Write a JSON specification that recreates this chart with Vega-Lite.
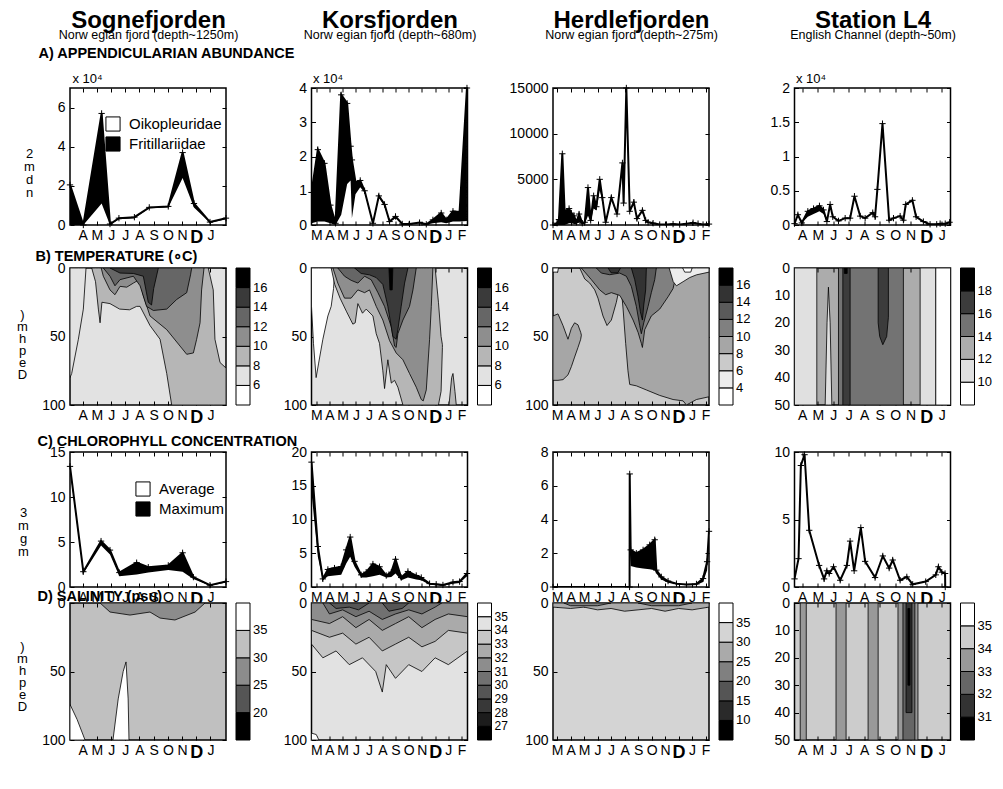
{
"$schema": "https://vega.github.io/schema/vega-lite/v6.json",
"autosize": "none",
"padding": {"left": 70, "top": 88, "right": 933, "bottom": 701},
"background": "white",
"config": {
  "font": "Liberation Sans",
  "view": {"stroke": "black", "strokeWidth": 1.5},
  "axis": {"grid": false, "domain": false, "tickColor": "black", "tickSize": -4, "tickWidth": 1, "labelColor": "black", "labelFontSize": 14, "labelFont": "Liberation Sans", "labelPadding": 9, "labelFlush": false, "labelOverlap": false, "labelBound": false, "titleColor": "black", "titleFont": "Liberation Sans", "titleFontWeight": "normal"},
  "axisX": {"labelPadding": 7},
  "legend": {"labelColor": "black", "labelFont": "Liberation Sans", "padding": 0}
},
"resolve": {"scale": {"color": "independent", "fill": "independent"}, "legend": {"color": "independent", "fill": "independent"}},
"datasets": {
  "a1": [{"t":-0.9,"hi":2.05,"lo":0},{"t":0.04,"hi":0,"lo":0},{"t":1.33,"hi":5.7,"lo":1.1},{"t":1.92,"hi":0.05,"lo":0},{"t":2.55,"hi":0.35,"lo":0.3},{"t":3.64,"hi":0.4,"lo":0.35},{"t":4.69,"hi":0.9,"lo":0.85},{"t":6.03,"hi":0.95,"lo":0.9},{"t":7.04,"hi":3.7,"lo":2.4},{"t":7.84,"hi":1.1,"lo":0.9},{"t":8.97,"hi":0.15,"lo":0.12},{"t":10.1,"hi":0.35,"lo":0.3}],
  "a2": [{"t":-0.36,"hi":0.95,"lo":0.05},{"t":0.12,"hi":2.2,"lo":0.1},{"t":0.62,"hi":1.8,"lo":0.1},{"t":1.07,"hi":0.58,"lo":0.05},{"t":1.46,"hi":0.05,"lo":0},{"t":1.89,"hi":3.8,"lo":0.3},{"t":2.34,"hi":3.55,"lo":1.2},{"t":2.6,"hi":2.3,"lo":1.3},{"t":2.7,"hi":1.9,"lo":0.2},{"t":2.97,"hi":1.25,"lo":0.9},{"t":3.33,"hi":1.3,"lo":1.1},{"t":3.66,"hi":1.0,"lo":0.95},{"t":4.29,"hi":0.05,"lo":0.04},{"t":4.74,"hi":0.85,"lo":0.8},{"t":5.17,"hi":0.6,"lo":0.55},{"t":5.55,"hi":0.1,"lo":0.08},{"t":6.0,"hi":0.25,"lo":0.2},{"t":6.51,"hi":0.03,"lo":0.02},{"t":7.06,"hi":0.03,"lo":0.02},{"t":7.82,"hi":0.07,"lo":0.05},{"t":8.33,"hi":0.02,"lo":0.01},{"t":8.83,"hi":0.15,"lo":0.05},{"t":9.46,"hi":0.35,"lo":0.08},{"t":9.84,"hi":0.15,"lo":0.05},{"t":10.35,"hi":0.4,"lo":0.1},{"t":10.85,"hi":0.38,"lo":0.1},{"t":11.41,"hi":4.0,"lo":0.12}],
  "a3": [{"t":-0.3,"hi":0,"lo":0},{"t":0.0,"hi":200,"lo":0},{"t":0.14,"hi":600,"lo":0},{"t":0.39,"hi":7800,"lo":0},{"t":0.56,"hi":1500,"lo":0},{"t":0.89,"hi":1800,"lo":200},{"t":1.06,"hi":1300,"lo":200},{"t":1.26,"hi":1000,"lo":100},{"t":1.43,"hi":300,"lo":100},{"t":1.63,"hi":1200,"lo":300},{"t":1.87,"hi":200,"lo":100},{"t":2.05,"hi":300,"lo":100},{"t":2.29,"hi":4100,"lo":1000},{"t":2.49,"hi":500,"lo":300},{"t":2.71,"hi":3200,"lo":1800},{"t":2.91,"hi":2000,"lo":1600},{"t":3.16,"hi":5000,"lo":3800},{"t":3.35,"hi":3000,"lo":2700},{"t":3.6,"hi":300,"lo":250},{"t":4.02,"hi":3000,"lo":2800},{"t":4.44,"hi":1200,"lo":1100},{"t":4.84,"hi":6800,"lo":6500},{"t":4.93,"hi":2400,"lo":2200},{"t":5.13,"hi":15000,"lo":14600},{"t":5.38,"hi":1500,"lo":1400},{"t":5.68,"hi":2500,"lo":2300},{"t":5.92,"hi":700,"lo":650},{"t":6.32,"hi":1600,"lo":1500},{"t":6.56,"hi":500,"lo":450},{"t":6.74,"hi":300,"lo":250},{"t":7.11,"hi":200,"lo":150},{"t":7.6,"hi":50,"lo":30},{"t":8.1,"hi":50,"lo":30},{"t":8.59,"hi":100,"lo":60},{"t":9.08,"hi":50,"lo":30},{"t":9.58,"hi":150,"lo":100},{"t":10.07,"hi":250,"lo":150},{"t":10.44,"hi":150,"lo":100},{"t":10.81,"hi":50,"lo":30},{"t":11.25,"hi":100,"lo":60}],
  "a4": [{"t":-0.5,"hi":0.02,"lo":0.02},{"t":-0.28,"hi":0.15,"lo":0.15},{"t":-0.03,"hi":0.03,"lo":0.03},{"t":0.36,"hi":0.2,"lo":0.12},{"t":0.73,"hi":0.24,"lo":0.16},{"t":1.11,"hi":0.28,"lo":0.2},{"t":1.37,"hi":0.22,"lo":0.16},{"t":1.59,"hi":0.05,"lo":0.05},{"t":1.8,"hi":0.3,"lo":0.3},{"t":1.97,"hi":0.12,"lo":0.12},{"t":2.34,"hi":0.06,"lo":0.06},{"t":2.77,"hi":0.1,"lo":0.1},{"t":3.09,"hi":0.1,"lo":0.1},{"t":3.37,"hi":0.42,"lo":0.42},{"t":3.74,"hi":0.13,"lo":0.13},{"t":4.06,"hi":0.1,"lo":0.1},{"t":4.55,"hi":0.18,"lo":0.18},{"t":4.7,"hi":0.12,"lo":0.12},{"t":4.85,"hi":0.52,"lo":0.52},{"t":5.18,"hi":1.48,"lo":1.48},{"t":5.61,"hi":0.07,"lo":0.07},{"t":5.89,"hi":0.1,"lo":0.1},{"t":6.32,"hi":0.13,"lo":0.13},{"t":6.53,"hi":0.07,"lo":0.07},{"t":6.68,"hi":0.3,"lo":0.3},{"t":7.11,"hi":0.36,"lo":0.36},{"t":7.35,"hi":0.12,"lo":0.12},{"t":7.82,"hi":0.05,"lo":0.05},{"t":8.25,"hi":0.01,"lo":0.01},{"t":8.68,"hi":0.01,"lo":0.01},{"t":8.9,"hi":0.02,"lo":0.02},{"t":9.23,"hi":0.02,"lo":0.02},{"t":9.51,"hi":0.04,"lo":0.04}],
  "c1": [{"t":-0.9,"hi":13.4,"lo":13.0},{"t":0.04,"hi":1.7,"lo":1.5},{"t":1.29,"hi":5.1,"lo":4.6},{"t":1.92,"hi":4.1,"lo":3.6},{"t":2.58,"hi":1.6,"lo":1.2},{"t":3.8,"hi":2.7,"lo":1.4},{"t":4.62,"hi":2.2,"lo":1.6},{"t":6.03,"hi":2.4,"lo":1.9},{"t":7.04,"hi":3.8,"lo":1.7},{"t":7.8,"hi":1.1,"lo":0.9},{"t":8.97,"hi":0.2,"lo":0.15},{"t":10.1,"hi":0.6,"lo":0.5}],
  "c2": [{"t":-0.36,"hi":18.5,"lo":14},{"t":0.12,"hi":6,"lo":4.5},{"t":0.5,"hi":1.2,"lo":1.0},{"t":0.88,"hi":2.6,"lo":1.6},{"t":1.38,"hi":2.8,"lo":1.7},{"t":1.89,"hi":3.0,"lo":1.8},{"t":2.27,"hi":5.5,"lo":3.5},{"t":2.57,"hi":7.4,"lo":4.5},{"t":2.9,"hi":3.8,"lo":3.0},{"t":3.4,"hi":1.8,"lo":1.4},{"t":3.78,"hi":2.2,"lo":1.4},{"t":4.29,"hi":3.4,"lo":1.6},{"t":4.79,"hi":3.0,"lo":1.8},{"t":5.3,"hi":1.7,"lo":1.4},{"t":5.68,"hi":2.2,"lo":1.5},{"t":6.0,"hi":4.1,"lo":2.0},{"t":6.43,"hi":1.4,"lo":1.0},{"t":6.94,"hi":2.3,"lo":1.4},{"t":7.57,"hi":1.7,"lo":1.1},{"t":7.95,"hi":1.4,"lo":1.0},{"t":8.58,"hi":0.5,"lo":0.35},{"t":9.08,"hi":0.4,"lo":0.25},{"t":9.59,"hi":0.3,"lo":0.2},{"t":10.35,"hi":0.7,"lo":0.5},{"t":10.85,"hi":0.8,"lo":0.6},{"t":11.41,"hi":2.0,"lo":1.6}],
  "c3": [{"t":-0.3,"hi":0,"lo":0},{"t":5.37,"hi":0,"lo":0},{"t":5.38,"hi":6.7,"lo":2.2},{"t":5.45,"hi":2.2,"lo":1.25},{"t":5.87,"hi":2.0,"lo":1.15},{"t":6.37,"hi":2.2,"lo":1.1},{"t":6.86,"hi":2.5,"lo":1.05},{"t":7.23,"hi":2.8,"lo":1.0},{"t":7.35,"hi":1.0,"lo":0.8},{"t":7.72,"hi":0.6,"lo":0.45},{"t":8.22,"hi":0.35,"lo":0.25},{"t":8.84,"hi":0.2,"lo":0.15},{"t":9.58,"hi":0.15,"lo":0.1},{"t":10.32,"hi":0.18,"lo":0.12},{"t":10.81,"hi":0.5,"lo":0.3},{"t":11.11,"hi":1.5,"lo":1.0},{"t":11.25,"hi":3.3,"lo":2.5}],
  "c4": [{"t":-0.5,"hi":0.6,"lo":0.6},{"t":-0.24,"hi":2.1,"lo":2.1},{"t":-0.09,"hi":9.0,"lo":9.0},{"t":0.15,"hi":9.8,"lo":9.8},{"t":0.45,"hi":4.2,"lo":4.2},{"t":1.09,"hi":1.6,"lo":1.6},{"t":1.41,"hi":0.6,"lo":0.6},{"t":1.59,"hi":1.2,"lo":1.2},{"t":1.74,"hi":1.0,"lo":1.0},{"t":2.02,"hi":1.5,"lo":1.5},{"t":2.45,"hi":0.5,"lo":0.5},{"t":2.88,"hi":1.6,"lo":1.6},{"t":3.09,"hi":3.4,"lo":3.4},{"t":3.35,"hi":1.2,"lo":1.2},{"t":3.78,"hi":4.4,"lo":4.4},{"t":4.06,"hi":1.9,"lo":1.9},{"t":4.7,"hi":0.7,"lo":0.7},{"t":5.2,"hi":2.3,"lo":2.3},{"t":5.61,"hi":1.4,"lo":1.4},{"t":5.84,"hi":2.0,"lo":2.0},{"t":6.32,"hi":0.5,"lo":0.5},{"t":6.75,"hi":0.75,"lo":0.75},{"t":7.13,"hi":0.2,"lo":0.2},{"t":7.97,"hi":0.4,"lo":0.4},{"t":8.62,"hi":0.9,"lo":0.9},{"t":8.79,"hi":1.5,"lo":1.5},{"t":9.01,"hi":1.1,"lo":1.1},{"t":9.22,"hi":1.0,"lo":1.0},{"t":9.23,"hi":0,"lo":0}],
  "b1": [
    {"r":1,"lev":7,"t":-0.9,"top":0,"bot":80},{"r":1,"lev":7,"t":-0.78,"top":0,"bot":77},{"r":1,"lev":7,"t":-0.31,"top":0,"bot":52},{"r":1,"lev":7,"t":0.04,"top":0,"bot":30},{"r":1,"lev":7,"t":0.23,"top":0,"bot":0},
    {"r":2,"lev":9,"t":0.63,"top":0,"bot":0},{"r":2,"lev":9,"t":0.9,"top":0,"bot":10},{"r":2,"lev":9,"t":1.1,"top":0,"bot":30},{"r":2,"lev":9,"t":1.22,"top":0,"bot":40},{"r":2,"lev":9,"t":1.35,"top":0,"bot":25},{"r":2,"lev":9,"t":1.92,"top":0,"bot":26},{"r":2,"lev":9,"t":2.6,"top":0,"bot":30},{"r":2,"lev":9,"t":3.3,"top":0,"bot":30.5},{"r":2,"lev":9,"t":3.8,"top":0,"bot":28},{"r":2,"lev":9,"t":4.04,"top":0,"bot":28},{"r":2,"lev":9,"t":4.74,"top":0,"bot":42},{"r":2,"lev":9,"t":5.45,"top":0,"bot":52},{"r":2,"lev":9,"t":5.92,"top":0,"bot":77},{"r":2,"lev":9,"t":6.27,"top":0,"bot":100},{"r":2,"lev":9,"t":8.85,"top":0,"bot":100},{"r":2,"lev":9,"t":9.2,"top":16,"bot":100},{"r":2,"lev":9,"t":9.32,"top":52,"bot":100},{"r":2,"lev":9,"t":9.68,"top":69,"bot":100},{"r":2,"lev":9,"t":10.1,"top":73,"bot":100},
    {"r":3,"lev":11,"t":1.3,"top":0,"bot":0},{"r":3,"lev":11,"t":1.45,"top":0,"bot":6},{"r":3,"lev":11,"t":1.92,"top":0,"bot":16},{"r":3,"lev":11,"t":2.27,"top":0,"bot":19.5},{"r":3,"lev":11,"t":2.63,"top":0,"bot":13.4},{"r":3,"lev":11,"t":3.1,"top":0,"bot":14},{"r":3,"lev":11,"t":3.57,"top":0,"bot":11},{"r":3,"lev":11,"t":3.9,"top":0,"bot":9},{"r":3,"lev":11,"t":4.04,"top":0,"bot":10},{"r":3,"lev":11,"t":4.27,"top":0,"bot":20},{"r":3,"lev":11,"t":4.74,"top":0,"bot":35},{"r":3,"lev":11,"t":5.92,"top":0,"bot":45},{"r":3,"lev":11,"t":6.86,"top":0,"bot":57},{"r":3,"lev":11,"t":7.33,"top":0,"bot":63},{"r":3,"lev":11,"t":7.8,"top":0,"bot":62},{"r":3,"lev":11,"t":8.03,"top":0,"bot":52},{"r":3,"lev":11,"t":8.27,"top":0,"bot":40},{"r":3,"lev":11,"t":8.38,"top":0,"bot":16},{"r":3,"lev":11,"t":8.55,"top":0,"bot":0},
    {"r":4,"lev":13,"t":1.45,"top":0,"bot":0},{"r":4,"lev":13,"t":1.92,"top":0,"bot":6},{"r":4,"lev":13,"t":2.27,"top":0,"bot":13},{"r":4,"lev":13,"t":2.63,"top":0,"bot":8.5},{"r":4,"lev":13,"t":3.57,"top":0,"bot":6},{"r":4,"lev":13,"t":4.04,"top":0,"bot":13},{"r":4,"lev":13,"t":4.5,"top":0,"bot":28},{"r":4,"lev":13,"t":4.98,"top":0,"bot":31},{"r":4,"lev":13,"t":5.92,"top":0,"bot":30},{"r":4,"lev":13,"t":6.62,"top":0,"bot":23},{"r":4,"lev":13,"t":7.33,"top":0,"bot":18},{"r":4,"lev":13,"t":7.6,"top":0,"bot":5},{"r":4,"lev":13,"t":7.68,"top":0,"bot":0},
    {"r":5,"lev":15,"t":1.92,"top":0,"bot":0},{"r":5,"lev":15,"t":2.63,"top":0,"bot":3.7},{"r":5,"lev":15,"t":3.57,"top":0,"bot":4},{"r":5,"lev":15,"t":4.27,"top":0,"bot":6},{"r":5,"lev":15,"t":4.62,"top":0,"bot":25},{"r":5,"lev":15,"t":4.85,"top":0,"bot":27},{"r":5,"lev":15,"t":5.0,"top":0,"bot":15},{"r":5,"lev":15,"t":5.33,"top":0,"bot":0}
  ],
  "b2": [
    {"r":1,"lev":5,"t":-0.36,"top":0,"bot":28},{"r":1,"lev":5,"t":-0.21,"top":0,"bot":55},{"r":1,"lev":5,"t":-0.01,"top":0,"bot":80},{"r":1,"lev":5,"t":0.17,"top":0,"bot":70},{"r":1,"lev":5,"t":0.5,"top":0,"bot":52},{"r":1,"lev":5,"t":0.88,"top":0,"bot":35},{"r":1,"lev":5,"t":1.13,"top":0,"bot":28},{"r":1,"lev":5,"t":1.31,"top":0,"bot":15},{"r":1,"lev":5,"t":1.41,"top":0,"bot":0},
    {"r":2,"lev":9,"t":1.13,"top":0,"bot":0},{"r":2,"lev":9,"t":1.4,"top":0,"bot":12},{"r":2,"lev":9,"t":1.8,"top":0,"bot":22},{"r":2,"lev":9,"t":2.3,"top":0,"bot":32},{"r":2,"lev":9,"t":2.77,"top":0,"bot":41},{"r":2,"lev":9,"t":2.95,"top":0,"bot":40},{"r":2,"lev":9,"t":3.15,"top":0,"bot":26},{"r":2,"lev":9,"t":3.5,"top":0,"bot":33},{"r":2,"lev":9,"t":3.78,"top":0,"bot":30},{"r":2,"lev":9,"t":4.29,"top":0,"bot":35},{"r":2,"lev":9,"t":4.54,"top":0,"bot":48},{"r":2,"lev":9,"t":4.79,"top":0,"bot":55},{"r":2,"lev":9,"t":5.04,"top":0,"bot":75},{"r":2,"lev":9,"t":5.17,"top":0,"bot":88},{"r":2,"lev":9,"t":5.42,"top":0,"bot":67},{"r":2,"lev":9,"t":5.68,"top":0,"bot":84},{"r":2,"lev":9,"t":5.93,"top":0,"bot":82},{"r":2,"lev":9,"t":6.18,"top":0,"bot":87},{"r":2,"lev":9,"t":6.56,"top":0,"bot":100},{"r":2,"lev":9,"t":9.0,"top":0,"bot":100},{"r":2,"lev":9,"t":9.25,"top":25,"bot":100},{"r":2,"lev":9,"t":9.45,"top":50,"bot":90},{"r":2,"lev":9,"t":9.55,"top":56,"bot":58},
    {"r":3,"lev":9,"t":10.05,"top":100,"bot":100},{"r":3,"lev":9,"t":10.25,"top":80,"bot":100},{"r":3,"lev":9,"t":10.35,"top":77,"bot":100},{"r":3,"lev":9,"t":10.5,"top":90,"bot":100},{"r":3,"lev":9,"t":10.6,"top":100,"bot":100},
    {"r":4,"lev":11,"t":1.26,"top":0,"bot":0},{"r":4,"lev":11,"t":1.63,"top":0,"bot":11},{"r":4,"lev":11,"t":2.14,"top":0,"bot":22},{"r":4,"lev":11,"t":2.64,"top":0,"bot":22},{"r":4,"lev":11,"t":3.15,"top":0,"bot":16},{"r":4,"lev":11,"t":3.66,"top":0,"bot":18},{"r":4,"lev":11,"t":4.03,"top":0,"bot":16},{"r":4,"lev":11,"t":4.54,"top":0,"bot":28},{"r":4,"lev":11,"t":5.04,"top":0,"bot":38},{"r":4,"lev":11,"t":5.55,"top":0,"bot":53},{"r":4,"lev":11,"t":6.05,"top":0,"bot":62},{"r":4,"lev":11,"t":6.56,"top":0,"bot":67},{"r":4,"lev":11,"t":7.06,"top":0,"bot":77},{"r":4,"lev":11,"t":7.57,"top":0,"bot":87},{"r":4,"lev":11,"t":7.95,"top":0,"bot":96},{"r":4,"lev":11,"t":8.1,"top":0,"bot":97},{"r":4,"lev":11,"t":8.33,"top":0,"bot":89},{"r":4,"lev":11,"t":8.58,"top":0,"bot":52},{"r":4,"lev":11,"t":8.71,"top":0,"bot":28},{"r":4,"lev":11,"t":8.83,"top":0,"bot":0},
    {"r":5,"lev":13,"t":1.63,"top":0,"bot":0},{"r":5,"lev":13,"t":2.14,"top":0,"bot":6},{"r":5,"lev":13,"t":2.64,"top":0,"bot":9},{"r":5,"lev":13,"t":3.15,"top":0,"bot":11},{"r":5,"lev":13,"t":3.66,"top":0,"bot":6},{"r":5,"lev":13,"t":4.16,"top":0,"bot":8.6},{"r":5,"lev":13,"t":4.67,"top":0,"bot":18},{"r":5,"lev":13,"t":5.17,"top":0,"bot":28},{"r":5,"lev":13,"t":5.68,"top":0,"bot":43},{"r":5,"lev":13,"t":5.93,"top":0,"bot":57},{"r":5,"lev":13,"t":6.05,"top":0,"bot":58},{"r":5,"lev":13,"t":6.18,"top":0,"bot":48},{"r":5,"lev":13,"t":6.56,"top":0,"bot":38},{"r":5,"lev":13,"t":7.06,"top":0,"bot":28},{"r":5,"lev":13,"t":7.32,"top":0,"bot":16},{"r":5,"lev":13,"t":7.57,"top":0,"bot":0},
    {"r":6,"lev":15,"t":2.9,"top":0,"bot":0},{"r":6,"lev":15,"t":3.4,"top":0,"bot":4},{"r":6,"lev":15,"t":4.03,"top":0,"bot":5},{"r":6,"lev":15,"t":4.54,"top":0,"bot":7},{"r":6,"lev":15,"t":5.04,"top":0,"bot":12},{"r":6,"lev":15,"t":5.42,"top":0,"bot":28},{"r":6,"lev":15,"t":5.8,"top":0,"bot":50},{"r":6,"lev":15,"t":6.05,"top":0,"bot":52},{"r":6,"lev":15,"t":6.18,"top":0,"bot":45},{"r":6,"lev":15,"t":6.43,"top":0,"bot":28},{"r":6,"lev":15,"t":6.69,"top":0,"bot":11},{"r":6,"lev":15,"t":6.94,"top":0,"bot":0},
    {"r":7,"lev":17,"t":5.5,"top":0,"bot":0},{"r":7,"lev":17,"t":5.58,"top":0,"bot":16},{"r":7,"lev":17,"t":5.75,"top":0,"bot":16},{"r":7,"lev":17,"t":5.8,"top":0,"bot":0}
  ],
  "b3": [
    {"r":1,"lev":9,"t":-0.3,"top":35,"bot":82},{"r":1,"lev":9,"t":0.07,"top":33.5,"bot":82},{"r":1,"lev":9,"t":0.44,"top":42,"bot":81.5},{"r":1,"lev":9,"t":0.81,"top":52,"bot":78},{"r":1,"lev":9,"t":1.06,"top":44,"bot":72},{"r":1,"lev":9,"t":1.3,"top":40,"bot":65},{"r":1,"lev":9,"t":1.55,"top":41.5,"bot":58},{"r":1,"lev":9,"t":1.75,"top":47,"bot":52},{"r":1,"lev":9,"t":1.8,"top":49,"bot":49},
    {"r":2,"lev":9,"t":1.68,"top":0,"bot":0},{"r":2,"lev":9,"t":2.05,"top":0,"bot":8},{"r":2,"lev":9,"t":2.42,"top":0,"bot":11},{"r":2,"lev":9,"t":2.79,"top":0,"bot":16},{"r":2,"lev":9,"t":3.03,"top":0,"bot":22},{"r":2,"lev":9,"t":3.4,"top":0,"bot":35},{"r":2,"lev":9,"t":3.7,"top":0,"bot":42},{"r":2,"lev":9,"t":4.02,"top":0,"bot":38},{"r":2,"lev":9,"t":4.39,"top":0,"bot":25},{"r":2,"lev":9,"t":4.71,"top":0,"bot":10},{"r":2,"lev":9,"t":4.89,"top":0,"bot":30},{"r":2,"lev":9,"t":5.08,"top":0,"bot":55},{"r":2,"lev":9,"t":5.25,"top":0,"bot":75},{"r":2,"lev":9,"t":5.38,"top":0,"bot":85},{"r":2,"lev":9,"t":5.87,"top":0,"bot":86},{"r":2,"lev":9,"t":6.61,"top":0,"bot":89},{"r":2,"lev":9,"t":7.6,"top":0,"bot":93},{"r":2,"lev":9,"t":8.59,"top":0,"bot":96},{"r":2,"lev":9,"t":9.33,"top":0,"bot":97},{"r":2,"lev":9,"t":9.58,"top":0,"bot":100},{"r":2,"lev":9,"t":10.32,"top":0,"bot":96},{"r":2,"lev":9,"t":11.25,"top":0,"bot":94},
    {"r":3,"lev":11,"t":1.8,"top":0,"bot":0},{"r":3,"lev":11,"t":2.54,"top":0,"bot":8.5},{"r":3,"lev":11,"t":3.16,"top":0,"bot":16},{"r":3,"lev":11,"t":3.6,"top":0,"bot":19.5},{"r":3,"lev":11,"t":4.02,"top":0,"bot":18},{"r":3,"lev":11,"t":4.64,"top":0,"bot":20},{"r":3,"lev":11,"t":5.13,"top":0,"bot":28},{"r":3,"lev":11,"t":5.63,"top":0,"bot":38},{"r":3,"lev":11,"t":6.0,"top":0,"bot":47},{"r":3,"lev":11,"t":6.24,"top":0,"bot":55},{"r":3,"lev":11,"t":6.32,"top":0,"bot":58},{"r":3,"lev":11,"t":6.49,"top":0,"bot":45},{"r":3,"lev":11,"t":6.98,"top":0,"bot":35},{"r":3,"lev":11,"t":7.6,"top":0,"bot":30},{"r":3,"lev":11,"t":8.22,"top":0,"bot":21},{"r":3,"lev":11,"t":8.59,"top":0,"bot":15},{"r":3,"lev":11,"t":8.84,"top":0,"bot":4},{"r":3,"lev":11,"t":8.96,"top":0,"bot":0},
    {"r":4,"lev":13,"t":2.91,"top":0,"bot":0},{"r":4,"lev":13,"t":3.28,"top":0,"bot":3.7},{"r":4,"lev":13,"t":3.9,"top":0,"bot":4.9},{"r":4,"lev":13,"t":4.64,"top":0,"bot":3.7},{"r":4,"lev":13,"t":5.13,"top":0,"bot":6},{"r":4,"lev":13,"t":5.5,"top":0,"bot":13.4},{"r":4,"lev":13,"t":5.87,"top":0,"bot":28},{"r":4,"lev":13,"t":6.12,"top":0,"bot":42},{"r":4,"lev":13,"t":6.24,"top":0,"bot":48},{"r":4,"lev":13,"t":6.42,"top":0,"bot":40},{"r":4,"lev":13,"t":6.74,"top":0,"bot":28},{"r":4,"lev":13,"t":6.98,"top":0,"bot":18},{"r":4,"lev":13,"t":7.23,"top":0,"bot":8.5},{"r":4,"lev":13,"t":7.35,"top":0,"bot":0},
    {"r":5,"lev":15,"t":3.78,"top":0,"bot":0},{"r":5,"lev":15,"t":4.0,"top":0,"bot":3.5},{"r":5,"lev":15,"t":4.5,"top":0,"bot":3.5},{"r":5,"lev":15,"t":4.7,"top":0,"bot":0},
    {"r":6,"lev":15,"t":5.5,"top":0,"bot":0},{"r":6,"lev":15,"t":5.75,"top":0,"bot":8.5},{"r":6,"lev":15,"t":6.0,"top":0,"bot":21},{"r":6,"lev":15,"t":6.17,"top":0,"bot":32},{"r":6,"lev":15,"t":6.32,"top":0,"bot":38},{"r":6,"lev":15,"t":6.42,"top":0,"bot":27},{"r":6,"lev":15,"t":6.56,"top":0,"bot":16},{"r":6,"lev":15,"t":6.61,"top":0,"bot":0},
    {"r":7,"lev":5,"t":8.3,"top":0,"bot":0},{"r":7,"lev":5,"t":8.6,"top":0,"bot":10},{"r":7,"lev":5,"t":8.84,"top":0,"bot":13},{"r":7,"lev":5,"t":9.33,"top":0,"bot":10},{"r":7,"lev":5,"t":9.82,"top":0,"bot":7},{"r":7,"lev":5,"t":10.32,"top":0,"bot":5},{"r":7,"lev":5,"t":11.25,"top":0,"bot":3},
    {"r":8,"lev":3,"t":-0.3,"top":0,"bot":3},{"r":8,"lev":3,"t":0.05,"top":0,"bot":3},{"r":8,"lev":3,"t":0.1,"top":0,"bot":0},
    {"r":9,"lev":3,"t":9.3,"top":0,"bot":0},{"r":9,"lev":3,"t":9.45,"top":0,"bot":3},{"r":9,"lev":3,"t":9.9,"top":0,"bot":3},{"r":9,"lev":3,"t":10.0,"top":0,"bot":0}
  ],
  "b4": [
    {"r":1,"lev":11,"t":-0.5,"top":0,"bot":50},{"r":1,"lev":11,"t":0.94,"top":0,"bot":50},
    {"r":2,"lev":11,"t":1.48,"top":50,"bot":50},{"r":2,"lev":11,"t":1.6,"top":20,"bot":50},{"r":2,"lev":11,"t":1.69,"top":7,"bot":50},{"r":2,"lev":11,"t":1.8,"top":20,"bot":50},{"r":2,"lev":11,"t":1.91,"top":50,"bot":50},
    {"r":3,"lev":15,"t":2.34,"top":0,"bot":50},{"r":3,"lev":15,"t":6.53,"top":0,"bot":50},
    {"r":4,"lev":17,"t":2.62,"top":0,"bot":50},{"r":4,"lev":17,"t":3.09,"top":0,"bot":50},
    {"r":5,"lev":17,"t":4.9,"top":0,"bot":20},{"r":5,"lev":17,"t":5.0,"top":0,"bot":25},{"r":5,"lev":17,"t":5.2,"top":0,"bot":28},{"r":5,"lev":17,"t":5.45,"top":0,"bot":25},{"r":5,"lev":17,"t":5.56,"top":0,"bot":18},
    {"r":6,"lev":11,"t":7.61,"top":0,"bot":50},{"r":6,"lev":11,"t":8.62,"top":0,"bot":50},
    {"r":7,"lev":9,"t":8.62,"top":0,"bot":50},{"r":7,"lev":9,"t":9.57,"top":0,"bot":50},
    {"r":8,"lev":19,"t":2.72,"top":0,"bot":2},{"r":8,"lev":19,"t":2.9,"top":0,"bot":2}
  ],
  "d1": [
    {"r":1,"lev":27.5,"t":1.22,"top":0,"bot":0},{"r":1,"lev":27.5,"t":1.92,"top":0,"bot":6.6},{"r":1,"lev":27.5,"t":3.33,"top":0,"bot":8.8},{"r":1,"lev":27.5,"t":4.74,"top":0,"bot":6.6},{"r":1,"lev":27.5,"t":5.45,"top":0,"bot":11},{"r":1,"lev":27.5,"t":6.5,"top":0,"bot":12.4},{"r":1,"lev":27.5,"t":7.92,"top":0,"bot":6.6},{"r":1,"lev":27.5,"t":8.62,"top":0,"bot":0},
    {"r":2,"lev":37.5,"t":2.13,"top":100,"bot":100},{"r":2,"lev":37.5,"t":2.5,"top":70,"bot":100},{"r":2,"lev":37.5,"t":2.85,"top":50,"bot":100},{"r":2,"lev":37.5,"t":3.05,"top":43,"bot":100},{"r":2,"lev":37.5,"t":3.2,"top":70,"bot":100},{"r":2,"lev":37.5,"t":3.26,"top":100,"bot":100},
    {"r":3,"lev":37.5,"t":-0.9,"top":74,"bot":100},{"r":3,"lev":37.5,"t":-0.4,"top":85,"bot":100},{"r":3,"lev":37.5,"t":0.16,"top":100,"bot":100}
  ],
  "d2": [
    {"r":1,"lev":33.5,"t":-0.36,"top":0,"bot":30},{"r":1,"lev":33.5,"t":0.5,"top":0,"bot":40},{"r":1,"lev":33.5,"t":1.5,"top":0,"bot":35},{"r":1,"lev":33.5,"t":2.5,"top":0,"bot":45},{"r":1,"lev":33.5,"t":3.5,"top":0,"bot":40},{"r":1,"lev":33.5,"t":4.5,"top":0,"bot":50},{"r":1,"lev":33.5,"t":5.0,"top":0,"bot":65},{"r":1,"lev":33.5,"t":5.3,"top":0,"bot":45},{"r":1,"lev":33.5,"t":6,"top":0,"bot":55},{"r":1,"lev":33.5,"t":7,"top":0,"bot":45},{"r":1,"lev":33.5,"t":8,"top":0,"bot":50},{"r":1,"lev":33.5,"t":9,"top":0,"bot":40},{"r":1,"lev":33.5,"t":10,"top":0,"bot":45},{"r":1,"lev":33.5,"t":11.45,"top":0,"bot":35},
    {"r":2,"lev":32.5,"t":-0.36,"top":0,"bot":20},{"r":2,"lev":32.5,"t":1,"top":0,"bot":25},{"r":2,"lev":32.5,"t":2,"top":0,"bot":22},{"r":2,"lev":32.5,"t":3,"top":0,"bot":30},{"r":2,"lev":32.5,"t":4,"top":0,"bot":25},{"r":2,"lev":32.5,"t":5,"top":0,"bot":35},{"r":2,"lev":32.5,"t":6,"top":0,"bot":30},{"r":2,"lev":32.5,"t":7,"top":0,"bot":25},{"r":2,"lev":32.5,"t":8,"top":0,"bot":32},{"r":2,"lev":32.5,"t":9,"top":0,"bot":28},{"r":2,"lev":32.5,"t":10,"top":0,"bot":20},{"r":2,"lev":32.5,"t":11.45,"top":0,"bot":22},
    {"r":3,"lev":31.5,"t":-0.36,"top":0,"bot":12},{"r":3,"lev":31.5,"t":1,"top":0,"bot":15},{"r":3,"lev":31.5,"t":2,"top":0,"bot":10},{"r":3,"lev":31.5,"t":3,"top":0,"bot":18},{"r":3,"lev":31.5,"t":4,"top":0,"bot":12},{"r":3,"lev":31.5,"t":5,"top":0,"bot":20},{"r":3,"lev":31.5,"t":6,"top":0,"bot":15},{"r":3,"lev":31.5,"t":7,"top":0,"bot":10},{"r":3,"lev":31.5,"t":8,"top":0,"bot":18},{"r":3,"lev":31.5,"t":9,"top":0,"bot":12},{"r":3,"lev":31.5,"t":10,"top":0,"bot":8},{"r":3,"lev":31.5,"t":11.45,"top":0,"bot":10},
    {"r":4,"lev":30.5,"t":0.5,"top":0,"bot":0},{"r":4,"lev":30.5,"t":1,"top":0,"bot":8},{"r":4,"lev":30.5,"t":2,"top":0,"bot":5},{"r":4,"lev":30.5,"t":3,"top":0,"bot":10},{"r":4,"lev":30.5,"t":4,"top":0,"bot":6},{"r":4,"lev":30.5,"t":5,"top":0,"bot":12},{"r":4,"lev":30.5,"t":6,"top":0,"bot":8},{"r":4,"lev":30.5,"t":7,"top":0,"bot":5},{"r":4,"lev":30.5,"t":8,"top":0,"bot":8},{"r":4,"lev":30.5,"t":9,"top":0,"bot":3},{"r":4,"lev":30.5,"t":9.5,"top":0,"bot":0},
    {"r":5,"lev":29.5,"t":1,"top":0,"bot":0},{"r":5,"lev":29.5,"t":1.5,"top":0,"bot":4},{"r":5,"lev":29.5,"t":2.5,"top":0,"bot":3},{"r":5,"lev":29.5,"t":3.2,"top":0,"bot":5},{"r":5,"lev":29.5,"t":4,"top":0,"bot":0},
    {"r":6,"lev":29.5,"t":5,"top":0,"bot":0},{"r":6,"lev":29.5,"t":5.5,"top":0,"bot":6},{"r":6,"lev":29.5,"t":6.5,"top":0,"bot":4},{"r":6,"lev":29.5,"t":7,"top":0,"bot":0},
    {"r":7,"lev":35.5,"t":-0.36,"top":95,"bot":100},{"r":7,"lev":35.5,"t":0,"top":96,"bot":100},{"r":7,"lev":35.5,"t":0.2,"top":100,"bot":100}
  ],
  "d3": [
    {"r":1,"lev":27.5,"t":-0.3,"top":0,"bot":3},{"r":1,"lev":27.5,"t":1,"top":0,"bot":4},{"r":1,"lev":27.5,"t":2,"top":0,"bot":3},{"r":1,"lev":27.5,"t":3,"top":0,"bot":5},{"r":1,"lev":27.5,"t":4,"top":0,"bot":4},{"r":1,"lev":27.5,"t":5,"top":0,"bot":6},{"r":1,"lev":27.5,"t":6,"top":0,"bot":5},{"r":1,"lev":27.5,"t":7,"top":0,"bot":4},{"r":1,"lev":27.5,"t":8,"top":0,"bot":6},{"r":1,"lev":27.5,"t":9,"top":0,"bot":4},{"r":1,"lev":27.5,"t":10,"top":0,"bot":5},{"r":1,"lev":27.5,"t":11.25,"top":0,"bot":3},
    {"r":2,"lev":22.5,"t":0.5,"top":0,"bot":0},{"r":2,"lev":22.5,"t":1,"top":0,"bot":2},{"r":2,"lev":22.5,"t":3,"top":0,"bot":2},{"r":2,"lev":22.5,"t":4,"top":0,"bot":0},
    {"r":3,"lev":22.5,"t":6,"top":0,"bot":0},{"r":3,"lev":22.5,"t":7,"top":0,"bot":2},{"r":3,"lev":22.5,"t":9,"top":0,"bot":2},{"r":3,"lev":22.5,"t":10,"top":0,"bot":0}
  ],
  "d4": [
    {"r":1,"lev":33.5,"t":-0.13,"top":0,"bot":50},{"r":1,"lev":33.5,"t":0.26,"top":0,"bot":50},
    {"r":2,"lev":33.5,"t":2.18,"top":0,"bot":50},{"r":2,"lev":33.5,"t":2.83,"top":0,"bot":50},
    {"r":3,"lev":33.5,"t":4.25,"top":0,"bot":50},{"r":3,"lev":33.5,"t":4.9,"top":0,"bot":50},
    {"r":4,"lev":33.5,"t":6.18,"top":0,"bot":50},{"r":4,"lev":33.5,"t":7.47,"top":0,"bot":50},
    {"r":5,"lev":32.5,"t":6.5,"top":0,"bot":50},{"r":5,"lev":32.5,"t":7.27,"top":0,"bot":50},
    {"r":6,"lev":31.5,"t":6.7,"top":0,"bot":40},{"r":6,"lev":31.5,"t":7.08,"top":0,"bot":40},
    {"r":7,"lev":30.5,"t":6.82,"top":2,"bot":30},{"r":7,"lev":30.5,"t":6.95,"top":2,"bot":30}
  ]
},
"columns": 4,
"spacing": {"row": 16, "column": 85.5},
"bounds": "flush",
"concat": [
  {"width":156,"height":137,"data":{"name":"a1"},
   "layer":[
    {"mark":{"type":"area","clip":true},
     "encoding":{
      "x":{"field":"t","type":"quantitative","scale":{"domain":[-0.9,10.1],"nice":false,"zero":false},"axis":{"values":[0,1,2,3,4,5,6,7,8,9],"labelExpr":"['A','M','J','J','A','S','O','N','D','J'][datum.value]","labelFontWeight":{"condition":{"test":"datum.value==8","value":"bold"},"value":"normal"},"labelFontSize":{"condition":{"test":"datum.value==8","value":18},"value":14},"title":"A) APPENDICULARIAN ABUNDANCE","titleX":-32,"titleY":-168,"titleAlign":"left","titleBaseline":"alphabetic","titleAngle":0,"titleFontSize":14.5,"titleFontWeight":"bold"}},
      "y":{"field":"lo","type":"quantitative","stack":null,"scale":{"domain":[0,7],"nice":false,"zero":false},"axis":{"values":[0,2,4,6],"labelExpr":"''+datum.value","title":"x 10⁴","titleAngle":0,"titleAlign":"left","titleBaseline":"alphabetic","titleX":2,"titleY":-6,"titleFontSize":13}},
      "y2":{"field":"hi"},
      "fill":{"datum":"Fritillariidae","type":"nominal","scale":{"domain":["Oikopleuridae","Fritillariidae"],"range":["white","black"]},"legend":{"orient":"none","legendX":35,"legendY":28,"title":null,"symbolType":"square","symbolSize":200,"symbolStrokeColor":"black","symbolStrokeWidth":1,"labelFontSize":15,"labelOffset":8,"rowPadding":0}}
     }},
    {"mark":{"type":"line","color":"black","strokeWidth":2,"clip":true},
     "encoding":{"x":{"field":"t","type":"quantitative","scale":{"domain":[-0.9,10.1],"nice":false,"zero":false},"axis":null},"y":{"field":"hi","type":"quantitative","scale":{"domain":[0,7],"nice":false,"zero":false},"axis":{"orient":"left","ticks":false,"labels":false,"title":"Norw egian fjord (depth~1250m)","titleX":78,"titleY":-50,"titleAngle":0,"titleAlign":"center","titleBaseline":"alphabetic","titleFontSize":12.5}}}},
    {"mark":{"type":"point","shape":"M-1,0H1M0,-1V1","filled":false,"color":"black","size":40,"strokeWidth":1,"opacity":1},
     "encoding":{"x":{"field":"t","type":"quantitative","scale":{"domain":[-0.9,10.1],"nice":false,"zero":false},"axis":{"orient":"top","labels":false,"values":[0,1,2,3,4,5,6,7,8,9],"title":"Sognefjorden","titleX":78,"titleY":-61,"titleAngle":0,"titleAlign":"center","titleBaseline":"alphabetic","titleFontSize":24,"titleFontWeight":"bold"}},"y":{"field":"hi","type":"quantitative","scale":{"domain":[0,7],"nice":false,"zero":false},"axis":{"orient":"right","labels":false,"values":[0,2,4,6],"title":["2","m","d","n"],"titleAngle":0,"titleX":-197,"titleY":59,"titleAlign":"center","titleBaseline":"top","titleFontSize":13,"titleLineHeight":13}}}}
   ],
   "resolve":{"axis":{"x":"independent","y":"independent"}}},
  {"width":156,"height":137,"data":{"name":"a2"},
   "layer":[
    {"mark":{"type":"area","clip":true,"color":"black"},
     "encoding":{
      "x":{"field":"t","type":"quantitative","scale":{"domain":[-0.36,11.45],"nice":false,"zero":false},"axis":{"values":[0,1,2,3,4,5,6,7,8,9,10,11],"labelExpr":"['M','A','M','J','J','A','S','O','N','D','J','F'][datum.value]","labelFontWeight":{"condition":{"test":"datum.value==9","value":"bold"},"value":"normal"},"labelFontSize":{"condition":{"test":"datum.value==9","value":18},"value":14},"title":null}},
      "y":{"field":"lo","type":"quantitative","stack":null,"scale":{"domain":[0,4],"nice":false,"zero":false},"axis":{"values":[0,1,2,3,4],"labelExpr":"''+datum.value","title":"x 10⁴","titleAngle":0,"titleAlign":"left","titleBaseline":"alphabetic","titleX":1,"titleY":-6,"titleFontSize":13}},
      "y2":{"field":"hi"}
     }},
    {"mark":{"type":"line","color":"black","strokeWidth":2,"clip":true},
     "encoding":{"x":{"field":"t","type":"quantitative","scale":{"domain":[-0.36,11.45],"nice":false,"zero":false},"axis":null},"y":{"field":"hi","type":"quantitative","scale":{"domain":[0,4],"nice":false,"zero":false},"axis":{"orient":"left","ticks":false,"labels":false,"title":"Norw egian fjord (depth~680m)","titleX":78,"titleY":-50,"titleAngle":0,"titleAlign":"center","titleBaseline":"alphabetic","titleFontSize":12.5}}}},
    {"mark":{"type":"point","shape":"M-1,0H1M0,-1V1","filled":false,"color":"black","size":40,"strokeWidth":1,"opacity":1},
     "encoding":{"x":{"field":"t","type":"quantitative","scale":{"domain":[-0.36,11.45],"nice":false,"zero":false},"axis":{"orient":"top","labels":false,"values":[0,1,2,3,4,5,6,7,8,9,10,11],"title":"Korsfjorden","titleX":78,"titleY":-61,"titleAngle":0,"titleAlign":"center","titleBaseline":"alphabetic","titleFontSize":24,"titleFontWeight":"bold"}},"y":{"field":"hi","type":"quantitative","scale":{"domain":[0,4],"nice":false,"zero":false},"axis":{"orient":"right","labels":false,"values":[0,1,2,3,4],"title":null}}}}
   ],
   "resolve":{"axis":{"x":"independent","y":"independent"}}},
  {"width":156,"height":137,"data":{"name":"a3"},
   "layer":[
    {"mark":{"type":"area","clip":true,"color":"black"},
     "encoding":{
      "x":{"field":"t","type":"quantitative","scale":{"domain":[-0.3,11.25],"nice":false,"zero":false},"axis":{"values":[0,1,2,3,4,5,6,7,8,9,10,11],"labelExpr":"['M','A','M','J','J','A','S','O','N','D','J','F'][datum.value]","labelFontWeight":{"condition":{"test":"datum.value==9","value":"bold"},"value":"normal"},"labelFontSize":{"condition":{"test":"datum.value==9","value":18},"value":14},"title":null}},
      "y":{"field":"lo","type":"quantitative","stack":null,"scale":{"domain":[0,15000],"nice":false,"zero":false},"axis":{"values":[0,5000,10000,15000],"labelExpr":"''+datum.value","title":null}},
      "y2":{"field":"hi"}
     }},
    {"mark":{"type":"line","color":"black","strokeWidth":2,"clip":true},
     "encoding":{"x":{"field":"t","type":"quantitative","scale":{"domain":[-0.3,11.25],"nice":false,"zero":false},"axis":null},"y":{"field":"hi","type":"quantitative","scale":{"domain":[0,15000],"nice":false,"zero":false},"axis":{"orient":"left","ticks":false,"labels":false,"title":"Norw egian fjord (depth~275m)","titleX":78,"titleY":-50,"titleAngle":0,"titleAlign":"center","titleBaseline":"alphabetic","titleFontSize":12.5}}}},
    {"mark":{"type":"point","shape":"M-1,0H1M0,-1V1","filled":false,"color":"black","size":40,"strokeWidth":1,"opacity":1},
     "encoding":{"x":{"field":"t","type":"quantitative","scale":{"domain":[-0.3,11.25],"nice":false,"zero":false},"axis":{"orient":"top","labels":false,"values":[0,1,2,3,4,5,6,7,8,9,10,11],"title":"Herdlefjorden","titleX":78,"titleY":-61,"titleAngle":0,"titleAlign":"center","titleBaseline":"alphabetic","titleFontSize":24,"titleFontWeight":"bold"}},"y":{"field":"hi","type":"quantitative","scale":{"domain":[0,15000],"nice":false,"zero":false},"axis":{"orient":"right","labels":false,"values":[0,5000,10000,15000],"title":null}}}}
   ],
   "resolve":{"axis":{"x":"independent","y":"independent"}}},
  {"width":156,"height":137,"data":{"name":"a4"},
   "layer":[
    {"mark":{"type":"area","clip":true,"color":"black"},
     "encoding":{
      "x":{"field":"t","type":"quantitative","scale":{"domain":[-0.5,9.57],"nice":false,"zero":false},"axis":{"values":[0,1,2,3,4,5,6,7,8,9],"labelExpr":"['A','M','J','J','A','S','O','N','D','J'][datum.value]","labelFontWeight":{"condition":{"test":"datum.value==8","value":"bold"},"value":"normal"},"labelFontSize":{"condition":{"test":"datum.value==8","value":18},"value":14},"title":null}},
      "y":{"field":"lo","type":"quantitative","stack":null,"scale":{"domain":[0,2],"nice":false,"zero":false},"axis":{"values":[0,0.5,1,1.5,2],"labelExpr":"''+datum.value","title":"x 10⁴","titleAngle":0,"titleAlign":"left","titleBaseline":"alphabetic","titleX":1,"titleY":-6,"titleFontSize":13}},
      "y2":{"field":"hi"}
     }},
    {"mark":{"type":"line","color":"black","strokeWidth":2,"clip":true},
     "encoding":{"x":{"field":"t","type":"quantitative","scale":{"domain":[-0.5,9.57],"nice":false,"zero":false},"axis":null},"y":{"field":"hi","type":"quantitative","scale":{"domain":[0,2],"nice":false,"zero":false},"axis":{"orient":"left","ticks":false,"labels":false,"title":"English Channel (depth~50m)","titleX":78,"titleY":-50,"titleAngle":0,"titleAlign":"center","titleBaseline":"alphabetic","titleFontSize":12.5}}}},
    {"mark":{"type":"point","shape":"M-1,0H1M0,-1V1","filled":false,"color":"black","size":40,"strokeWidth":1,"opacity":1},
     "encoding":{"x":{"field":"t","type":"quantitative","scale":{"domain":[-0.5,9.57],"nice":false,"zero":false},"axis":{"orient":"top","labels":false,"values":[0,1,2,3,4,5,6,7,8,9],"title":"Station L4","titleX":78,"titleY":-61,"titleAngle":0,"titleAlign":"center","titleBaseline":"alphabetic","titleFontSize":24,"titleFontWeight":"bold"}},"y":{"field":"hi","type":"quantitative","scale":{"domain":[0,2],"nice":false,"zero":false},"axis":{"orient":"right","labels":false,"values":[0,0.5,1,1.5,2],"title":null}}}}
   ],
   "resolve":{"axis":{"x":"independent","y":"independent"}}},
  {"width":156,"height":11,"data":{"values":[{}]},"mark":{"type":"point","opacity":0},"view":{"stroke":null}},
  {"width":156,"height":11,"data":{"values":[{}]},"mark":{"type":"point","opacity":0},"view":{"stroke":null}},
  {"width":156,"height":11,"data":{"values":[{}]},"mark":{"type":"point","opacity":0},"view":{"stroke":null}},
  {"width":156,"height":11,"data":{"values":[{}]},"mark":{"type":"point","opacity":0},"view":{"stroke":null}},
  {"width":156,"height":137,"data":{"name":"b1"},"view":{"fill":"#e2e2e2"},
   "layer":[
    {"mark":{"type":"area","stroke":"black","strokeWidth":0.8,"clip":true},
     "encoding":{
      "x":{"field":"t","type":"quantitative","scale":{"domain":[-0.9,10.1],"nice":false,"zero":false},"axis":{"values":[0,1,2,3,4,5,6,7,8,9],"labelExpr":"['A','M','J','J','A','S','O','N','D','J'][datum.value]","labelFontWeight":{"condition":{"test":"datum.value==8","value":"bold"},"value":"normal"},"labelFontSize":{"condition":{"test":"datum.value==8","value":18},"value":14},"title":"B) TEMPERATURE (∘C)","titleX":-35,"titleY":-145,"titleAlign":"left","titleBaseline":"alphabetic","titleAngle":0,"titleFontSize":14.5,"titleFontWeight":"bold"}},
      "y":{"field":"top","type":"quantitative","stack":null,"scale":{"domain":[0,100],"reverse":true,"nice":false,"zero":false},"axis":{"values":[0,50,100],"labelExpr":"''+datum.value","title":null}},
      "y2":{"field":"bot"},
      "color":{"field":"lev","type":"quantitative","scale":{"type":"threshold","domain":[6,8,10,12,14,16],"range":["#ffffff","#e2e2e2","#b6b6b6","#8e8e8e","#666666","#3a3a3a","#000000"]},"legend":{"type":"gradient","title":null,"orient":"right","offset":9,"direction":"vertical","gradientLength":137,"gradientThickness":14,"labelFontSize":13,"labelOffset":3,"labelOverlap":false,"gradientStrokeColor":"black","gradientStrokeWidth":1}},
      "detail":{"field":"r","type":"nominal"}
     }},
    {"mark":{"type":"point","opacity":0},
     "encoding":{"x":{"field":"t","type":"quantitative","scale":{"domain":[-0.9,10.1],"nice":false,"zero":false},"axis":{"orient":"top","labels":false,"values":[0,1,2,3,4,5,6,7,8,9],"title":null}},"y":{"field":"top","type":"quantitative","scale":{"domain":[0,100],"reverse":true,"nice":false,"zero":false},"axis":{"orient":"right","labels":false,"values":[0,50,100],"title":[")","m","h","p","e","D"],"titleAngle":0,"titleX":-204,"titleY":40,"titleAlign":"center","titleBaseline":"top","titleFontSize":13,"titleLineHeight":12}}}}
   ],
   "resolve":{"axis":{"x":"independent","y":"independent"}}},
  {"width":156,"height":137,"data":{"name":"b2"},"view":{"fill":"#e2e2e2"},
   "layer":[
    {"mark":{"type":"area","stroke":"black","strokeWidth":0.8,"clip":true},
     "encoding":{
      "x":{"field":"t","type":"quantitative","scale":{"domain":[-0.36,11.45],"nice":false,"zero":false},"axis":{"values":[0,1,2,3,4,5,6,7,8,9,10,11],"labelExpr":"['M','A','M','J','J','A','S','O','N','D','J','F'][datum.value]","labelFontWeight":{"condition":{"test":"datum.value==9","value":"bold"},"value":"normal"},"labelFontSize":{"condition":{"test":"datum.value==9","value":18},"value":14},"title":null}},
      "y":{"field":"top","type":"quantitative","stack":null,"scale":{"domain":[0,100],"reverse":true,"nice":false,"zero":false},"axis":{"values":[0,50,100],"labelExpr":"''+datum.value","title":null}},
      "y2":{"field":"bot"},
      "color":{"field":"lev","type":"quantitative","scale":{"type":"threshold","domain":[6,8,10,12,14,16],"range":["#ffffff","#e2e2e2","#b6b6b6","#8e8e8e","#666666","#3a3a3a","#000000"]},"legend":{"type":"gradient","title":null,"orient":"right","offset":9,"direction":"vertical","gradientLength":137,"gradientThickness":14,"labelFontSize":13,"labelOffset":3,"labelOverlap":false,"gradientStrokeColor":"black","gradientStrokeWidth":1}},
      "detail":{"field":"r","type":"nominal"}
     }},
    {"mark":{"type":"point","opacity":0},
     "encoding":{"x":{"field":"t","type":"quantitative","scale":{"domain":[-0.36,11.45],"nice":false,"zero":false},"axis":{"orient":"top","labels":false,"values":[0,1,2,3,4,5,6,7,8,9,10,11],"title":null}},"y":{"field":"top","type":"quantitative","scale":{"domain":[0,100],"reverse":true,"nice":false,"zero":false},"axis":{"orient":"right","labels":false,"values":[0,50,100],"title":null}}}}
   ],
   "resolve":{"axis":{"x":"independent","y":"independent"}}},
  {"width":156,"height":137,"data":{"name":"b3"},"view":{"fill":"#cacaca"},
   "layer":[
    {"mark":{"type":"area","stroke":"black","strokeWidth":0.8,"clip":true},
     "encoding":{
      "x":{"field":"t","type":"quantitative","scale":{"domain":[-0.3,11.25],"nice":false,"zero":false},"axis":{"values":[0,1,2,3,4,5,6,7,8,9,10,11],"labelExpr":"['M','A','M','J','J','A','S','O','N','D','J','F'][datum.value]","labelFontWeight":{"condition":{"test":"datum.value==9","value":"bold"},"value":"normal"},"labelFontSize":{"condition":{"test":"datum.value==9","value":18},"value":14},"title":null}},
      "y":{"field":"top","type":"quantitative","stack":null,"scale":{"domain":[0,100],"reverse":true,"nice":false,"zero":false},"axis":{"values":[0,50,100],"labelExpr":"''+datum.value","title":null}},
      "y2":{"field":"bot"},
      "color":{"field":"lev","type":"quantitative","scale":{"type":"threshold","domain":[4,6,8,10,12,14,16],"range":["#ffffff","#ececec","#cacaca","#a6a6a6","#808080","#5a5a5a","#333333","#000000"]},"legend":{"type":"gradient","title":null,"orient":"right","offset":9,"direction":"vertical","gradientLength":137,"gradientThickness":14,"labelFontSize":13,"labelOffset":3,"labelOverlap":false,"gradientStrokeColor":"black","gradientStrokeWidth":1}},
      "detail":{"field":"r","type":"nominal"}
     }},
    {"mark":{"type":"point","opacity":0},
     "encoding":{"x":{"field":"t","type":"quantitative","scale":{"domain":[-0.3,11.25],"nice":false,"zero":false},"axis":{"orient":"top","labels":false,"values":[0,1,2,3,4,5,6,7,8,9,10,11],"title":null}},"y":{"field":"top","type":"quantitative","scale":{"domain":[0,100],"reverse":true,"nice":false,"zero":false},"axis":{"orient":"right","labels":false,"values":[0,50,100],"title":null}}}}
   ],
   "resolve":{"axis":{"x":"independent","y":"independent"}}},
  {"width":156,"height":137,"data":{"name":"b4"},"view":{"fill":"#acacac"},
   "layer":[
    {"mark":{"type":"area","stroke":"black","strokeWidth":0.8,"clip":true},
     "encoding":{
      "x":{"field":"t","type":"quantitative","scale":{"domain":[-0.5,9.57],"nice":false,"zero":false},"axis":{"values":[0,1,2,3,4,5,6,7,8,9],"labelExpr":"['A','M','J','J','A','S','O','N','D','J'][datum.value]","labelFontWeight":{"condition":{"test":"datum.value==8","value":"bold"},"value":"normal"},"labelFontSize":{"condition":{"test":"datum.value==8","value":18},"value":14},"title":null}},
      "y":{"field":"top","type":"quantitative","stack":null,"scale":{"domain":[0,50],"reverse":true,"nice":false,"zero":false},"axis":{"values":[0,10,20,30,40,50],"labelExpr":"''+datum.value","title":null}},
      "y2":{"field":"bot"},
      "color":{"field":"lev","type":"quantitative","scale":{"type":"threshold","domain":[10,12,14,16,18],"range":["#ffffff","#e0e0e0","#acacac","#737373","#3c3c3c","#000000"]},"legend":{"type":"gradient","title":null,"orient":"right","offset":9,"direction":"vertical","gradientLength":137,"gradientThickness":14,"labelFontSize":13,"labelOffset":3,"labelOverlap":false,"gradientStrokeColor":"black","gradientStrokeWidth":1}},
      "detail":{"field":"r","type":"nominal"}
     }},
    {"mark":{"type":"point","opacity":0},
     "encoding":{"x":{"field":"t","type":"quantitative","scale":{"domain":[-0.5,9.57],"nice":false,"zero":false},"axis":{"orient":"top","labels":false,"values":[0,1,2,3,4,5,6,7,8,9],"title":null}},"y":{"field":"top","type":"quantitative","scale":{"domain":[0,50],"reverse":true,"nice":false,"zero":false},"axis":{"orient":"right","labels":false,"values":[0,10,20,30,40,50],"title":null}}}}
   ],
   "resolve":{"axis":{"x":"independent","y":"independent"}}},
  {"width":156,"height":15,"data":{"values":[{}]},"mark":{"type":"point","opacity":0},"view":{"stroke":null}},
  {"width":156,"height":15,"data":{"values":[{}]},"mark":{"type":"point","opacity":0},"view":{"stroke":null}},
  {"width":156,"height":15,"data":{"values":[{}]},"mark":{"type":"point","opacity":0},"view":{"stroke":null}},
  {"width":156,"height":15,"data":{"values":[{}]},"mark":{"type":"point","opacity":0},"view":{"stroke":null}},
  {"width":156,"height":135,"data":{"name":"c1"},
   "layer":[
    {"mark":{"type":"area","clip":true},
     "encoding":{
      "x":{"field":"t","type":"quantitative","scale":{"domain":[-0.9,10.1],"nice":false,"zero":false},"axis":{"values":[0,1,2,3,4,5,6,7,8,9],"labelExpr":"['A','M','J','J','A','S','O','N','D','J'][datum.value]","labelFontWeight":{"condition":{"test":"datum.value==8","value":"bold"},"value":"normal"},"labelFontSize":{"condition":{"test":"datum.value==8","value":18},"value":14},"title":"C) CHLOROPHYLL CONCENTRATION","titleX":-33,"titleY":-142,"titleAlign":"left","titleBaseline":"alphabetic","titleAngle":0,"titleFontSize":14.5,"titleFontWeight":"bold"}},
      "y":{"field":"lo","type":"quantitative","stack":null,"scale":{"domain":[0,15],"nice":false,"zero":false},"axis":{"values":[0,5,10,15],"labelExpr":"''+datum.value","title":null}},
      "y2":{"field":"hi"},
      "fill":{"datum":"Maximum","type":"nominal","scale":{"domain":["Average","Maximum"],"range":["white","black"]},"legend":{"orient":"none","legendX":65,"legendY":29,"title":null,"symbolType":"square","symbolSize":200,"symbolStrokeColor":"black","symbolStrokeWidth":1,"labelFontSize":15,"labelOffset":8,"rowPadding":0}}
     }},
    {"mark":{"type":"line","color":"black","strokeWidth":2,"clip":true},
     "encoding":{"x":{"field":"t","type":"quantitative","scale":{"domain":[-0.9,10.1],"nice":false,"zero":false},"axis":null},"y":{"field":"hi","type":"quantitative","scale":{"domain":[0,15],"nice":false,"zero":false},"axis":null}}},
    {"mark":{"type":"point","shape":"M-1,0H1M0,-1V1","filled":false,"color":"black","size":40,"strokeWidth":1,"opacity":1},
     "encoding":{"x":{"field":"t","type":"quantitative","scale":{"domain":[-0.9,10.1],"nice":false,"zero":false},"axis":{"orient":"top","labels":false,"values":[0,1,2,3,4,5,6,7,8,9],"title":null}},"y":{"field":"hi","type":"quantitative","scale":{"domain":[0,15],"nice":false,"zero":false},"axis":{"orient":"right","labels":false,"values":[0,5,10,15],"title":["3","m","g","m"],"titleAngle":0,"titleX":-203,"titleY":54,"titleAlign":"center","titleBaseline":"top","titleFontSize":13,"titleLineHeight":13}}}}
   ],
   "resolve":{"axis":{"x":"independent","y":"independent"}}},
  {"width":156,"height":135,"data":{"name":"c2"},
   "layer":[
    {"mark":{"type":"area","clip":true,"color":"black"},
     "encoding":{
      "x":{"field":"t","type":"quantitative","scale":{"domain":[-0.36,11.45],"nice":false,"zero":false},"axis":{"values":[0,1,2,3,4,5,6,7,8,9,10,11],"labelExpr":"['M','A','M','J','J','A','S','O','N','D','J','F'][datum.value]","labelFontWeight":{"condition":{"test":"datum.value==9","value":"bold"},"value":"normal"},"labelFontSize":{"condition":{"test":"datum.value==9","value":18},"value":14},"title":null}},
      "y":{"field":"lo","type":"quantitative","stack":null,"scale":{"domain":[0,20],"nice":false,"zero":false},"axis":{"values":[0,5,10,15,20],"labelExpr":"''+datum.value","title":null}},
      "y2":{"field":"hi"}
     }},
    {"mark":{"type":"line","color":"black","strokeWidth":2,"clip":true},
     "encoding":{"x":{"field":"t","type":"quantitative","scale":{"domain":[-0.36,11.45],"nice":false,"zero":false},"axis":null},"y":{"field":"hi","type":"quantitative","scale":{"domain":[0,20],"nice":false,"zero":false},"axis":null}}},
    {"mark":{"type":"point","shape":"M-1,0H1M0,-1V1","filled":false,"color":"black","size":40,"strokeWidth":1,"opacity":1},
     "encoding":{"x":{"field":"t","type":"quantitative","scale":{"domain":[-0.36,11.45],"nice":false,"zero":false},"axis":{"orient":"top","labels":false,"values":[0,1,2,3,4,5,6,7,8,9,10,11],"title":null}},"y":{"field":"hi","type":"quantitative","scale":{"domain":[0,20],"nice":false,"zero":false},"axis":{"orient":"right","labels":false,"values":[0,5,10,15,20],"title":null}}}}
   ],
   "resolve":{"axis":{"x":"independent","y":"independent"}}},
  {"width":156,"height":135,"data":{"name":"c3"},
   "layer":[
    {"mark":{"type":"area","clip":true,"color":"black"},
     "encoding":{
      "x":{"field":"t","type":"quantitative","scale":{"domain":[-0.3,11.25],"nice":false,"zero":false},"axis":{"values":[0,1,2,3,4,5,6,7,8,9,10,11],"labelExpr":"['M','A','M','J','J','A','S','O','N','D','J','F'][datum.value]","labelFontWeight":{"condition":{"test":"datum.value==9","value":"bold"},"value":"normal"},"labelFontSize":{"condition":{"test":"datum.value==9","value":18},"value":14},"title":null}},
      "y":{"field":"lo","type":"quantitative","stack":null,"scale":{"domain":[0,8],"nice":false,"zero":false},"axis":{"values":[0,2,4,6,8],"labelExpr":"''+datum.value","title":null}},
      "y2":{"field":"hi"}
     }},
    {"mark":{"type":"line","color":"black","strokeWidth":2,"clip":true},
     "encoding":{"x":{"field":"t","type":"quantitative","scale":{"domain":[-0.3,11.25],"nice":false,"zero":false},"axis":null},"y":{"field":"hi","type":"quantitative","scale":{"domain":[0,8],"nice":false,"zero":false},"axis":null}}},
    {"mark":{"type":"point","shape":"M-1,0H1M0,-1V1","filled":false,"color":"black","size":40,"strokeWidth":1,"opacity":1},
     "encoding":{"x":{"field":"t","type":"quantitative","scale":{"domain":[-0.3,11.25],"nice":false,"zero":false},"axis":{"orient":"top","labels":false,"values":[0,1,2,3,4,5,6,7,8,9,10,11],"title":null}},"y":{"field":"hi","type":"quantitative","scale":{"domain":[0,8],"nice":false,"zero":false},"axis":{"orient":"right","labels":false,"values":[0,2,4,6,8],"title":null}}}}
   ],
   "resolve":{"axis":{"x":"independent","y":"independent"}}},
  {"width":156,"height":135,"data":{"name":"c4"},
   "layer":[
    {"mark":{"type":"area","clip":true,"color":"black"},
     "encoding":{
      "x":{"field":"t","type":"quantitative","scale":{"domain":[-0.5,9.57],"nice":false,"zero":false},"axis":{"values":[0,1,2,3,4,5,6,7,8,9],"labelExpr":"['A','M','J','J','A','S','O','N','D','J'][datum.value]","labelFontWeight":{"condition":{"test":"datum.value==8","value":"bold"},"value":"normal"},"labelFontSize":{"condition":{"test":"datum.value==8","value":18},"value":14},"title":null}},
      "y":{"field":"lo","type":"quantitative","stack":null,"scale":{"domain":[0,10],"nice":false,"zero":false},"axis":{"values":[0,5,10],"labelExpr":"''+datum.value","title":null}},
      "y2":{"field":"hi"}
     }},
    {"mark":{"type":"line","color":"black","strokeWidth":2,"clip":true},
     "encoding":{"x":{"field":"t","type":"quantitative","scale":{"domain":[-0.5,9.57],"nice":false,"zero":false},"axis":null},"y":{"field":"hi","type":"quantitative","scale":{"domain":[0,10],"nice":false,"zero":false},"axis":null}}},
    {"mark":{"type":"point","shape":"M-1,0H1M0,-1V1","filled":false,"color":"black","size":40,"strokeWidth":1,"opacity":1},
     "encoding":{"x":{"field":"t","type":"quantitative","scale":{"domain":[-0.5,9.57],"nice":false,"zero":false},"axis":{"orient":"top","labels":false,"values":[0,1,2,3,4,5,6,7,8,9],"title":null}},"y":{"field":"hi","type":"quantitative","scale":{"domain":[0,10],"nice":false,"zero":false},"axis":{"orient":"right","labels":false,"values":[0,5,10],"title":null}}}}
   ],
   "resolve":{"axis":{"x":"independent","y":"independent"}}},
  {"width":156,"height":137,"data":{"name":"d1"},"view":{"fill":"#c0c0c0"},
   "layer":[
    {"mark":{"type":"area","stroke":"black","strokeWidth":0.8,"clip":true},
     "encoding":{
      "x":{"field":"t","type":"quantitative","scale":{"domain":[-0.9,10.1],"nice":false,"zero":false},"axis":{"values":[0,1,2,3,4,5,6,7,8,9],"labelExpr":"['A','M','J','J','A','S','O','N','D','J'][datum.value]","labelFontWeight":{"condition":{"test":"datum.value==8","value":"bold"},"value":"normal"},"labelFontSize":{"condition":{"test":"datum.value==8","value":18},"value":14},"title":"D) SALINITY (psu)","titleX":-33,"titleY":-140,"titleAlign":"left","titleBaseline":"alphabetic","titleAngle":0,"titleFontSize":14.5,"titleFontWeight":"bold"}},
      "y":{"field":"top","type":"quantitative","stack":null,"scale":{"domain":[0,100],"reverse":true,"nice":false,"zero":false},"axis":{"values":[0,50,100],"labelExpr":"''+datum.value","title":null}},
      "y2":{"field":"bot"},
      "color":{"field":"lev","type":"quantitative","scale":{"type":"threshold","domain":[20,25,30,35],"range":["#000000","#555555","#8c8c8c","#c0c0c0","#ffffff"]},"legend":{"type":"gradient","title":null,"orient":"right","offset":9,"direction":"vertical","gradientLength":137,"gradientThickness":14,"labelFontSize":13,"labelOffset":3,"labelOverlap":false,"gradientStrokeColor":"black","gradientStrokeWidth":1}},
      "detail":{"field":"r","type":"nominal"}
     }},
    {"mark":{"type":"point","opacity":0},
     "encoding":{"x":{"field":"t","type":"quantitative","scale":{"domain":[-0.9,10.1],"nice":false,"zero":false},"axis":{"orient":"top","labels":false,"values":[0,1,2,3,4,5,6,7,8,9],"title":null}},"y":{"field":"top","type":"quantitative","scale":{"domain":[0,100],"reverse":true,"nice":false,"zero":false},"axis":{"orient":"right","labels":false,"values":[0,50,100],"title":[")","m","h","p","e","D"],"titleAngle":0,"titleX":-204,"titleY":37,"titleAlign":"center","titleBaseline":"top","titleFontSize":13,"titleLineHeight":12}}}}
   ],
   "resolve":{"axis":{"x":"independent","y":"independent"}}},
  {"width":156,"height":137,"data":{"name":"d2"},"view":{"fill":"#e2e2e2"},
   "layer":[
    {"mark":{"type":"area","stroke":"black","strokeWidth":0.8,"clip":true},
     "encoding":{
      "x":{"field":"t","type":"quantitative","scale":{"domain":[-0.36,11.45],"nice":false,"zero":false},"axis":{"values":[0,1,2,3,4,5,6,7,8,9,10,11],"labelExpr":"['M','A','M','J','J','A','S','O','N','D','J','F'][datum.value]","labelFontWeight":{"condition":{"test":"datum.value==9","value":"bold"},"value":"normal"},"labelFontSize":{"condition":{"test":"datum.value==9","value":18},"value":14},"title":null}},
      "y":{"field":"top","type":"quantitative","stack":null,"scale":{"domain":[0,100],"reverse":true,"nice":false,"zero":false},"axis":{"values":[0,50,100],"labelExpr":"''+datum.value","title":null}},
      "y2":{"field":"bot"},
      "color":{"field":"lev","type":"quantitative","scale":{"type":"threshold","domain":[27,28,29,30,31,32,33,34,35],"range":["#000000","#1c1c1c","#383838","#555555","#717171","#8d8d8d","#aaaaaa","#c6c6c6","#e2e2e2","#ffffff"]},"legend":{"type":"gradient","title":null,"orient":"right","offset":9,"direction":"vertical","gradientLength":137,"gradientThickness":14,"labelFontSize":12,"labelOffset":3,"labelOverlap":false,"gradientStrokeColor":"black","gradientStrokeWidth":1}},
      "detail":{"field":"r","type":"nominal"}
     }},
    {"mark":{"type":"point","opacity":0},
     "encoding":{"x":{"field":"t","type":"quantitative","scale":{"domain":[-0.36,11.45],"nice":false,"zero":false},"axis":{"orient":"top","labels":false,"values":[0,1,2,3,4,5,6,7,8,9,10,11],"title":null}},"y":{"field":"top","type":"quantitative","scale":{"domain":[0,100],"reverse":true,"nice":false,"zero":false},"axis":{"orient":"right","labels":false,"values":[0,50,100],"title":null}}}}
   ],
   "resolve":{"axis":{"x":"independent","y":"independent"}}},
  {"width":156,"height":137,"data":{"name":"d3"},"view":{"fill":"#d4d4d4"},
   "layer":[
    {"mark":{"type":"area","stroke":"black","strokeWidth":0.8,"clip":true},
     "encoding":{
      "x":{"field":"t","type":"quantitative","scale":{"domain":[-0.3,11.25],"nice":false,"zero":false},"axis":{"values":[0,1,2,3,4,5,6,7,8,9,10,11],"labelExpr":"['M','A','M','J','J','A','S','O','N','D','J','F'][datum.value]","labelFontWeight":{"condition":{"test":"datum.value==9","value":"bold"},"value":"normal"},"labelFontSize":{"condition":{"test":"datum.value==9","value":18},"value":14},"title":null}},
      "y":{"field":"top","type":"quantitative","stack":null,"scale":{"domain":[0,100],"reverse":true,"nice":false,"zero":false},"axis":{"values":[0,50,100],"labelExpr":"''+datum.value","title":null}},
      "y2":{"field":"bot"},
      "color":{"field":"lev","type":"quantitative","scale":{"type":"threshold","domain":[10,15,20,25,30,35],"range":["#000000","#2a2a2a","#555555","#808080","#aaaaaa","#d4d4d4","#ffffff"]},"legend":{"type":"gradient","title":null,"orient":"right","offset":9,"direction":"vertical","gradientLength":137,"gradientThickness":14,"labelFontSize":13,"labelOffset":3,"labelOverlap":false,"gradientStrokeColor":"black","gradientStrokeWidth":1}},
      "detail":{"field":"r","type":"nominal"}
     }},
    {"mark":{"type":"point","opacity":0},
     "encoding":{"x":{"field":"t","type":"quantitative","scale":{"domain":[-0.3,11.25],"nice":false,"zero":false},"axis":{"orient":"top","labels":false,"values":[0,1,2,3,4,5,6,7,8,9,10,11],"title":null}},"y":{"field":"top","type":"quantitative","scale":{"domain":[0,100],"reverse":true,"nice":false,"zero":false},"axis":{"orient":"right","labels":false,"values":[0,50,100],"title":null}}}}
   ],
   "resolve":{"axis":{"x":"independent","y":"independent"}}},
  {"width":156,"height":137,"data":{"name":"d4"},"view":{"fill":"#cccccc"},
   "layer":[
    {"mark":{"type":"area","stroke":"black","strokeWidth":0.8,"clip":true},
     "encoding":{
      "x":{"field":"t","type":"quantitative","scale":{"domain":[-0.5,9.57],"nice":false,"zero":false},"axis":{"values":[0,1,2,3,4,5,6,7,8,9],"labelExpr":"['A','M','J','J','A','S','O','N','D','J'][datum.value]","labelFontWeight":{"condition":{"test":"datum.value==8","value":"bold"},"value":"normal"},"labelFontSize":{"condition":{"test":"datum.value==8","value":18},"value":14},"title":null}},
      "y":{"field":"top","type":"quantitative","stack":null,"scale":{"domain":[0,50],"reverse":true,"nice":false,"zero":false},"axis":{"values":[0,10,20,30,40,50],"labelExpr":"''+datum.value","title":null}},
      "y2":{"field":"bot"},
      "color":{"field":"lev","type":"quantitative","scale":{"type":"threshold","domain":[31,32,33,34,35],"range":["#000000","#333333","#666666","#999999","#cccccc","#ffffff"]},"legend":{"type":"gradient","title":null,"orient":"right","offset":9,"direction":"vertical","gradientLength":137,"gradientThickness":14,"labelFontSize":13,"labelOffset":3,"labelOverlap":false,"gradientStrokeColor":"black","gradientStrokeWidth":1}},
      "detail":{"field":"r","type":"nominal"}
     }},
    {"mark":{"type":"point","opacity":0},
     "encoding":{"x":{"field":"t","type":"quantitative","scale":{"domain":[-0.5,9.57],"nice":false,"zero":false},"axis":{"orient":"top","labels":false,"values":[0,1,2,3,4,5,6,7,8,9],"title":null}},"y":{"field":"top","type":"quantitative","scale":{"domain":[0,50],"reverse":true,"nice":false,"zero":false},"axis":{"orient":"right","labels":false,"values":[0,10,20,30,40,50],"title":null}}}}
   ],
   "resolve":{"axis":{"x":"independent","y":"independent"}}}
]
}
